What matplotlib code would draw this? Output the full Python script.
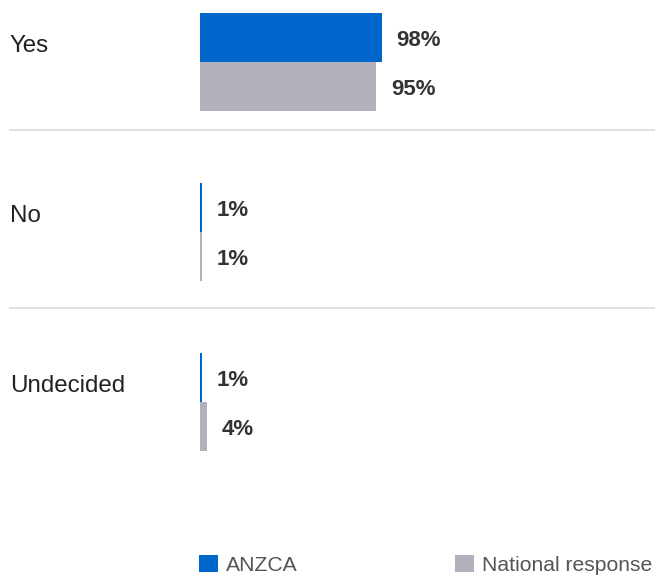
import numpy as np
import matplotlib
matplotlib.use("Agg")
import matplotlib.pyplot as plt
from matplotlib.patches import Patch

# 数据
categories = ["Yes", "No", "Undecided"]
anzca = [98, 1, 1]
national = [95, 1, 4]
series_names = ["ANZCA", "National response"]
colors = ["#0066CC", "#B1B1BC"]

plt.rcParams["font.family"] = ["Liberation Sans", "DejaVu Sans"]

fig = plt.figure(figsize=(6.55, 5.76), dpi=100)

# 坐标轴: 左边从 200px 开始, 1% 约 1.857px
ax = fig.add_axes([200 / 655, 0, 455 / 655, 1])
ax.set_xlim(0, 455 / 1.857)
ax.set_ylim(3.024, -0.365)
ax.axis("off")

y = np.arange(len(categories))
h = 49 / 170

ax.barh(y - h / 2, anzca, height=h, color=colors[0])
ax.barh(y + h / 2, national, height=h, color=colors[1])

for i in range(len(categories)):
    ax.text(anzca[i] + 7.8, y[i] - h / 2 + 0.015, f"{anzca[i]}%", ha="left", va="center",
            fontsize=16, fontweight="bold", color="#333333")
    ax.text(national[i] + 7.8, y[i] + h / 2 + 0.015, f"{national[i]}%", ha="left", va="center",
            fontsize=16, fontweight="bold", color="#333333")

# 左侧类别标签
for i, cat in enumerate(categories):
    fig.text(10 / 655, 1 - (62 + 170 * i - 16) / 576, cat, ha="left", va="center",
             fontsize=17.4, color="#222222")

# 分隔线
for sep in [0.4, 1.447]:
    ax.plot([-190 / 1.857, 455 / 1.857], [sep, sep], color="#DDDDDD", lw=1.3,
            clip_on=False)

# 图例
handles = [Patch(facecolor=c, edgecolor="none") for c in colors]
leg = fig.legend(handles, series_names, loc="lower left",
                 bbox_to_anchor=(199 / 655, 1 / 576), ncol=2, frameon=False,
                 fontsize=15.2, handlelength=0.9, handleheight=0.9,
                 handletextpad=0.38, columnspacing=7.44,
                 borderpad=0, borderaxespad=0)
for t in leg.get_texts():
    t.set_color("#555555")

plt.savefig("out.png", dpi=100)
